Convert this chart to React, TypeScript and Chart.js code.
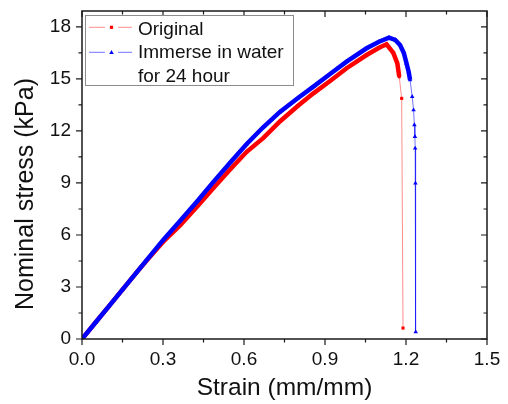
import React, { useEffect, useRef } from 'react';
import { Chart, registerables } from 'chart.js';

Chart.register(...registerables);

// ---- Data ----
const originalStrain = [0, 0.05, 0.1, 0.15, 0.2, 0.25, 0.3, 0.363, 0.43, 0.486, 0.55, 0.61, 0.672, 0.733, 0.8, 0.857, 0.92, 0.98, 1.054, 1.1, 1.128, 1.153, 1.168, 1.175, 1.184, 1.189];
const originalStress = [0, 0.95, 1.9, 2.85, 3.8, 4.72, 5.6, 6.55, 7.7, 8.69, 9.8, 10.8, 11.6, 12.55, 13.45, 14.17, 14.9, 15.62, 16.38, 16.8, 17.0, 16.5, 15.9, 15.13, 13.88, 0.63];

const waterStrain = [0, 0.05, 0.1, 0.15, 0.2, 0.25, 0.3, 0.363, 0.43, 0.486, 0.55, 0.61, 0.67, 0.733, 0.8, 0.857, 0.92, 0.98, 1.054, 1.1, 1.137, 1.16, 1.178, 1.192, 1.202, 1.21, 1.215, 1.223, 1.228, 1.231, 1.233, 1.234, 1.235, 1.236];
const waterStress = [0, 0.95, 1.9, 2.85, 3.8, 4.75, 5.7, 6.8, 8.0, 9.05, 10.2, 11.25, 12.2, 13.1, 13.9, 14.56, 15.3, 16.0, 16.77, 17.15, 17.38, 17.25, 16.96, 16.5, 15.9, 15.4, 14.94, 13.98, 13.21, 12.35, 11.67, 11.0, 8.98, 0.4];

const xTicks = [0, 0.3, 0.6, 0.9, 1.2, 1.5];
const yTicks = [0, 3, 6, 9, 12, 15, 18];
const xRange = [0, 1.5];
const yRange = [0, 18.92];

const xTitle = 'Strain (mm/mm)';
const yTitle = 'Nominal stress (kPa)';
const legendOriginal = ['Original'];
const legendWater = ['Immerse in water', 'for 24 hour'];

const FONT = "'Liberation Sans', Arial, Helvetica, sans-serif";
const RED = '#ff0000';
const RED_LIGHT = 'rgba(255,0,0,0.45)';
const BLUE = '#0000ff';
const BLUE_LIGHT = 'rgba(0,0,255,0.55)';
const AXIS = '#1a1a1a';

function toPoints(xs: number[], ys: number[]) {
  return xs.map((x, i) => ({ x, y: ys[i] }));
}

function thickSeg(ctx: any) {
  const p0 = ctx.p0.parsed;
  const p1 = ctx.p1.parsed;
  return p1.x < 1.12 || Math.min(p0.y, p1.y) >= 14.9;
}

function midpoints(arr: number[]) {
  const out: number[] = [];
  for (let i = 0; i < arr.length - 1; i++) out.push((arr[i] + arr[i + 1]) / 2);
  return out;
}

const framePlugin = {
  id: 'framePlugin',
  afterDatasetsDraw(chart: any) {
    const { ctx, chartArea: a, scales } = chart;
    const xs = scales.x;
    const ys = scales.y;
    ctx.save();

    // ticks
    ctx.strokeStyle = AXIS;
    ctx.lineWidth = 1.2;
    const major = 6;
    const minor = 3.5;
    const drawX = (v: number, len: number) => {
      const px = xs.getPixelForValue(v);
      ctx.beginPath();
      ctx.moveTo(px, a.bottom);
      ctx.lineTo(px, a.bottom + len);
      ctx.moveTo(px, a.top);
      ctx.lineTo(px, a.top + len);
      ctx.stroke();
    };
    const drawY = (v: number, len: number) => {
      const py = ys.getPixelForValue(v);
      ctx.beginPath();
      ctx.moveTo(a.left, py);
      ctx.lineTo(a.left - len, py);
      ctx.moveTo(a.right, py);
      ctx.lineTo(a.right - len, py);
      ctx.stroke();
    };
    xTicks.forEach((v) => drawX(v, major));
    midpoints(xTicks).forEach((v) => drawX(v, minor));
    yTicks.forEach((v) => drawY(v, major));
    const yMinor = midpoints(yTicks);
    yMinor.push(yTicks[yTicks.length - 1] + 1.5);
    yMinor.filter((v) => v <= yRange[1]).forEach((v) => drawY(v, minor));

    // frame
    ctx.lineWidth = 1.5;
    ctx.strokeRect(a.left, a.top, a.right - a.left, a.bottom - a.top);

    // axis titles
    ctx.fillStyle = '#111';
    ctx.font = `24.5px ${FONT}`;
    ctx.textAlign = 'center';
    ctx.textBaseline = 'alphabetic';
    ctx.fillText(xTitle, (a.left + a.right) / 2, 395);
    ctx.save();
    ctx.translate(33, 194);
    ctx.rotate(-Math.PI / 2);
    ctx.font = `25px ${FONT}`;
    ctx.fillText(yTitle, 0, 0);
    ctx.restore();

    // legend
    const lx = a.left + 3;
    const ly = a.top + 4;
    ctx.fillStyle = '#ffffff';
    ctx.fillRect(lx, ly, 209, 71);
    ctx.strokeStyle = '#8c8c8c';
    ctx.lineWidth = 1;
    ctx.strokeRect(Math.round(lx) + 0.5, Math.round(ly) + 0.5, 208, 70);

    const items = [
      { lines: legendOriginal, light: RED_LIGHT, solid: RED, style: 'rect', lineY: ly + 12.3, textY: ly + 20 },
      { lines: legendWater, light: BLUE_LIGHT, solid: BLUE, style: 'triangle', lineY: ly + 37.3, textY: ly + 43.3 },
    ];
    ctx.font = `19px ${FONT}`;
    ctx.textAlign = 'left';
    items.forEach((it) => {
      ctx.strokeStyle = it.light;
      ctx.lineWidth = 1;
      ctx.beginPath();
      ctx.moveTo(lx + 4, it.lineY);
      ctx.lineTo(lx + 20, it.lineY);
      ctx.moveTo(lx + 33, it.lineY);
      ctx.lineTo(lx + 47, it.lineY);
      ctx.stroke();
      ctx.fillStyle = it.solid;
      const mx = lx + 26.5;
      if (it.style === 'rect') {
        ctx.fillRect(mx - 1.6, it.lineY - 1.6, 3.2, 3.2);
      } else {
        ctx.beginPath();
        ctx.moveTo(mx, it.lineY - 2.4);
        ctx.lineTo(mx + 2.3, it.lineY + 1.6);
        ctx.lineTo(mx - 2.3, it.lineY + 1.6);
        ctx.closePath();
        ctx.fill();
      }
      ctx.fillStyle = '#111';
      it.lines.forEach((t, k) => ctx.fillText(t, lx + 53, it.textY + k * 23.4));
    });

    ctx.restore();
  },
};

export default function App() {
  const canvasRef = useRef<HTMLCanvasElement | null>(null);

  useEffect(() => {
    const canvas = canvasRef.current;
    if (!canvas) return;
    const chart = new Chart(canvas, {
      type: 'line',
      data: {
        datasets: [
          {
            label: legendWater.join(' '),
            data: toPoints(waterStrain, waterStress),
            order: 0,
            borderColor: BLUE_LIGHT,
            borderWidth: 1,
            pointStyle: 'triangle',
            pointRadius: 2.6,
            pointBorderWidth: 0,
            pointBackgroundColor: BLUE,
            pointBorderColor: BLUE,
            tension: 0,
            segment: {
              borderWidth: (c: any) => (thickSeg(c) ? 4.5 : 1),
              borderColor: (c: any) => (thickSeg(c) ? BLUE : BLUE_LIGHT),
            },
          },
          {
            label: legendOriginal.join(' '),
            data: toPoints(originalStrain, originalStress),
            order: 1,
            borderColor: RED_LIGHT,
            borderWidth: 1,
            pointStyle: 'rect',
            pointRadius: 2.2,
            pointBorderWidth: 0,
            pointBackgroundColor: RED,
            pointBorderColor: RED,
            tension: 0,
            segment: {
              borderWidth: (c: any) => (thickSeg(c) ? 4.5 : 1),
              borderColor: (c: any) => (thickSeg(c) ? RED : RED_LIGHT),
            },
          },
        ],
      },
      options: {
        responsive: false,
        animation: false,
        devicePixelRatio: 1,
        layout: { padding: { left: 0, right: 21, top: 11, bottom: 0 } },
        plugins: {
          legend: { display: false },
          tooltip: { enabled: false },
          title: { display: false },
        },
        scales: {
          x: {
            type: 'linear',
            min: xRange[0],
            max: xRange[1],
            afterFit: (s: any) => {
              s.height = 65;
              s.paddingLeft = 0;
              s.paddingRight = 0;
              s.paddingTop = 0;
              s.paddingBottom = 0;
            },
            afterBuildTicks: (s: any) => {
              s.ticks = xTicks.map((v) => ({ value: v }));
            },
            grid: { display: false, drawTicks: false },
            border: { display: false },
            ticks: {
              padding: 9,
              color: '#111',
              font: { family: FONT, size: 19, lineHeight: 1.2 },
              maxRotation: 0,
              callback: (v: any) => Number(v).toFixed(1),
            },
          },
          y: {
            type: 'linear',
            min: yRange[0],
            max: yRange[1],
            afterFit: (s: any) => {
              s.width = 82;
              s.paddingTop = 0;
              s.paddingBottom = 0;
              s.paddingLeft = 0;
              s.paddingRight = 0;
            },
            afterBuildTicks: (s: any) => {
              s.ticks = yTicks.map((v) => ({ value: v }));
            },
            grid: { display: false, drawTicks: false },
            border: { display: false },
            ticks: {
              padding: 11,
              color: '#111',
              font: { family: FONT, size: 19, lineHeight: 1.2 },
              callback: (v: any) => String(v),
            },
          },
        },
      },
      plugins: [framePlugin],
    } as any);
    return () => chart.destroy();
  }, []);

  return (
    <div style={{ position: 'absolute', left: 0, top: 0, width: 508, height: 404, background: '#fff' }}>
      <canvas ref={canvasRef} width={508} height={404} style={{ width: 508, height: 404, display: 'block' }} />
    </div>
  );
}
